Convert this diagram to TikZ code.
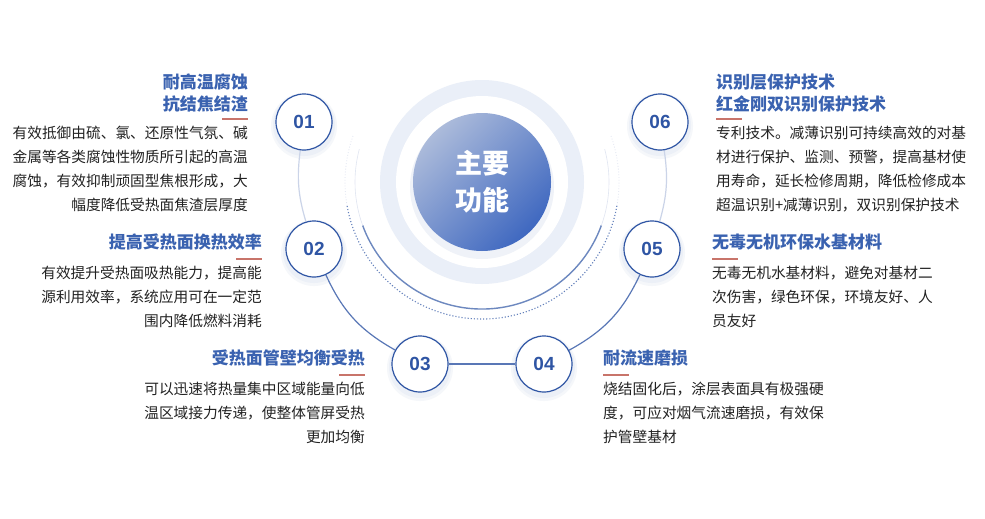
\documentclass[tikz,border=0pt]{standalone}
\usepackage{fontspec}
\setmainfont{Noto Sans CJK SC}
\newfontfamily\numfont{Liberation Sans}
\pgfdeclarelayer{bg}
\pgfsetlayers{bg,main}
\definecolor{mblue}{HTML}{2F55A4}
\definecolor{cblue}{HTML}{3F68C0}
\definecolor{tblue}{HTML}{3A62B0}
\definecolor{lring}{HTML}{EAEFF8}
\definecolor{uline}{HTML}{C8746A}
\definecolor{btext}{HTML}{222222}
\tikzset{
 num/.style={circle,draw=mblue,line width=1.2pt,fill=white,minimum size=56pt,font=\numfont\bfseries\fontsize{19}{19}\selectfont,text=mblue},
 ttl/.style={font=\bfseries\fontsize{17}{21.5}\selectfont,text=tblue,inner sep=0pt},
 body/.style={font=\fontsize{14.7}{24}\selectfont,text=btext,inner sep=0pt},
 link/.style={draw=mblue!80,line width=1.2pt},
 ul/.style={draw=uline,line width=1.2pt}
}
\begin{document}
\begin{tikzpicture}[x=1pt,y=-1pt]
\begin{pgfonlayer}{bg}
\fill[white] (0,0) rectangle (985,519);
\end{pgfonlayer}
\coordinate (c) at (482,182);
% rings
\fill[lring] (c) circle (102);
\fill[white] (c) circle (86);
\draw[mblue!70,line width=1.4pt] (c) ++(20:127) arc[start angle=20,end angle=160,radius=127];
\draw[mblue!15,line width=0.6pt] (c) ++(160:127) arc[start angle=160,end angle=195,radius=127];
\draw[mblue!15,line width=0.6pt] (c) ++(20:127) arc[start angle=20,end angle=-15,radius=127];
\draw[mblue!75,line width=1.1pt,dotted] (c) ++(10:137) arc[start angle=10,end angle=170,radius=137];
\draw[mblue!15,line width=0.8pt,dotted] (c) ++(170:137) arc[start angle=170,end angle=200,radius=137];
\draw[mblue!15,line width=0.8pt,dotted] (c) ++(10:137) arc[start angle=10,end angle=-20,radius=137];
\fill[mblue!30,opacity=0.25] (482,187) circle (72);
\shade[left color=mblue!40!white,right color=cblue,shading angle=45] (c) circle (69);
\node[font=\bfseries\fontsize{27}{37}\selectfont,text=white,align=center] (main) at (c) {主要\\功能};
% number circles
\node[num] (n1) at (304,122) {01};
\node[num] (n2) at (314,249) {02};
\node[num] (n3) at (420,364) {03};
\node[num] (n4) at (544,364) {04};
\node[num] (n5) at (652,249) {05};
\node[num] (n6) at (660,122) {06};
\begin{pgfonlayer}{bg}
\foreach \n in {n1,n2,n3,n4,n5,n6}{
 \fill[mblue!5] (\n) ++(0,4) circle (33);
 \fill[mblue!9] (\n) ++(0,3) circle (31);
}
\draw[mblue!25,line width=1.2pt] (n1) to[bend right=12] (n2);
\draw[mblue!25,line width=1.2pt] (n6) to[bend left=12] (n5);
\draw[link] (n2) to[bend right=18] (n3);
\draw[link] (n3) -- (n4);
\draw[link] (n4) to[bend right=18] (n5);
\end{pgfonlayer}
% block 01
\node[ttl,anchor=north east,align=right] (t1) at (248,74) {耐高温腐蚀\\抗结焦结渣};
\draw[ul] (222,119) -- (248,119);
\node[body,anchor=north east,align=right] (b1) at (248,126) {有效抵御由硫、氯、还原性气氛、碱\\金属等各类腐蚀性物质所引起的高温\\腐蚀，有效抑制顽固型焦根形成，大\\幅度降低受热面焦渣层厚度};
% block 02
\node[ttl,anchor=north east] (t2) at (262,234) {提高受热面换热效率};
\draw[ul] (236,259) -- (262,259);
\node[body,anchor=north east,align=right] (b2) at (262,266) {有效提升受热面吸热能力，提高能\\源利用效率，系统应用可在一定范\\围内降低燃料消耗};
% block 03
\node[ttl,anchor=north east] (t3) at (365,350) {受热面管壁均衡受热};
\draw[ul] (339,375) -- (365,375);
\node[body,anchor=north east,align=right] (b3) at (365,382) {可以迅速将热量集中区域能量向低\\温区域接力传递，使整体管屏受热\\更加均衡};
% block 06
\node[ttl,anchor=north west,align=left] (t6) at (716,74) {识别层保护技术\\红金刚双识别保护技术};
\draw[ul] (716,119) -- (742,119);
\node[body,anchor=north west,align=left] (b6) at (716,126) {专利技术。减薄识别可持续高效的对基\\材进行保护、监测、预警，提高基材使\\用寿命，延长检修周期，降低检修成本\\超温识别+减薄识别，双识别保护技术};
% block 05
\node[ttl,anchor=north west] (t5) at (712,234) {无毒无机环保水基材料};
\draw[ul] (712,259) -- (738,259);
\node[body,anchor=north west,align=left] (b5) at (712,266) {无毒无机水基材料，避免对基材二\\次伤害，绿色环保，环境友好、人\\员友好};
% block 04
\node[ttl,anchor=north west] (t4) at (603,350) {耐流速磨损};
\draw[ul] (603,375) -- (629,375);
\node[body,anchor=north west,align=left] (b4) at (603,382) {烧结固化后，涂层表面具有极强硬\\度，可应对烟气流速磨损，有效保\\护管壁基材};
\end{tikzpicture}
\end{document}
